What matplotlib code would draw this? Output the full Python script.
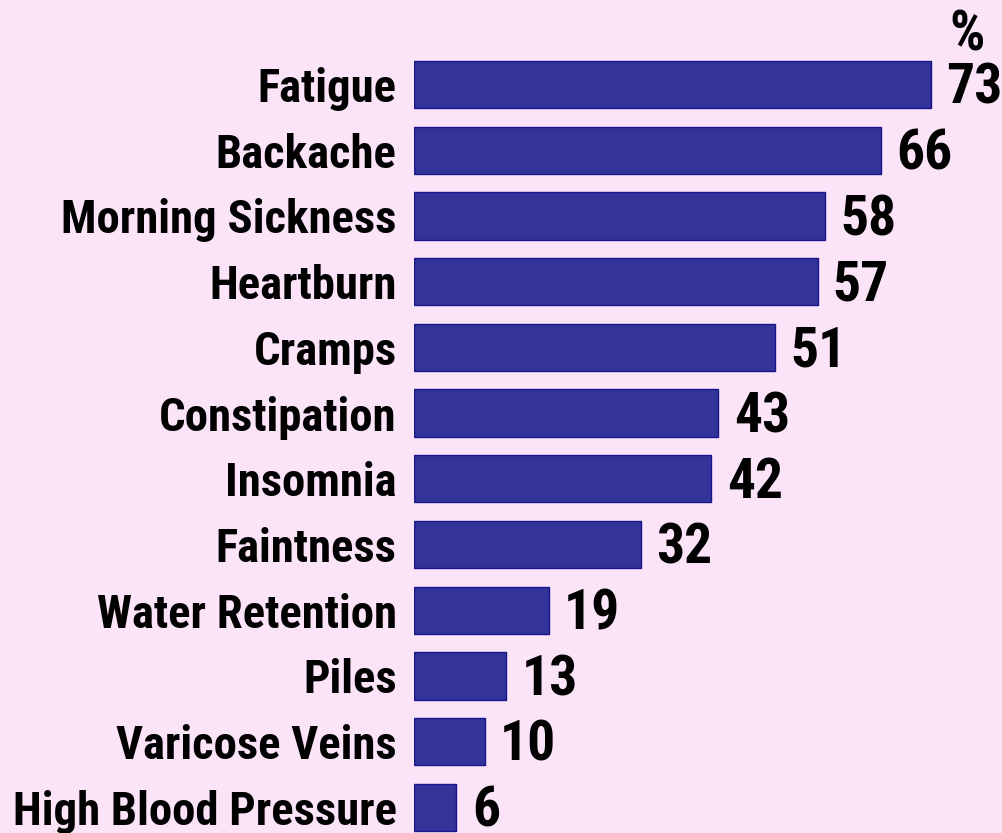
import matplotlib
matplotlib.use("Agg")
import matplotlib.pyplot as plt
from matplotlib import font_manager as fm

categories = ["Fatigue", "Backache", "Morning Sickness", "Heartburn", "Cramps",
              "Constipation", "Insomnia", "Faintness", "Water Retention", "Piles",
              "Varicose Veins", "High Blood Pressure"]
values = [73, 66, 58, 57, 51, 43, 42, 32, 19, 13, 10, 6]
unit_label = "%"

BG = "#FBE3F8"
BAR = "#333399"
EDGE = "#16168A"

candidates = ["Liberation Sans Narrow", "Arial Narrow", "Roboto Condensed",
              "Archivo Narrow", "PT Sans Narrow", "IBM Plex Sans Condensed",
              "Open Sans Condensed"]
available = {f.name for f in fm.fontManager.ttflist}
chosen = next((c for c in candidates if c in available), "Liberation Sans")
FONT = [chosen, "DejaVu Sans"]

fig = plt.figure(figsize=(10.02, 8.33), dpi=100, facecolor=BG)
ax = fig.add_axes([414/1002, 0, 1 - 414/1002, 1])
ax.set_facecolor(BG)
ypos = list(range(len(categories)))
ax.barh(ypos, values, height=0.72, color=BAR, edgecolor=EDGE, linewidth=1.0)
ax.set_xlim(0, (1002 - 414) / 7.08)
ax.set_ylim(11.39, -1.286)
for s in ax.spines.values():
    s.set_visible(False)
ax.set_xticks([])
ax.set_yticks(ypos)
ax.set_yticklabels(categories, fontsize=30, fontweight="bold", family=FONT)
ax.tick_params(axis="y", length=0, pad=12.5)

NUM_SIZE = 40
vals_txt = []
for y, v in zip(ypos, values):
    t = ax.annotate(str(v), (v, y), xytext=(11, -3), textcoords="offset points",
                    ha="left", va="center", fontsize=NUM_SIZE, fontweight="bold", family=FONT)
    vals_txt.append(t)
pct = ax.annotate(unit_label, (values[0], -0.75), xytext=(13, 0), textcoords="offset points",
                  ha="left", va="center", fontsize=NUM_SIZE, fontweight="bold", family=FONT)

# fit label font size to the reference's measured width of the longest label
fig.canvas.draw()
r = fig.canvas.get_renderer()
labs = ax.get_yticklabels()
w_lab = labs[-1].get_window_extent(r).width
lab_size = 30 * 385.0 / w_lab
for l in labs:
    l.set_fontsize(lab_size)

fig.savefig("out.png", dpi=100, facecolor=BG)
